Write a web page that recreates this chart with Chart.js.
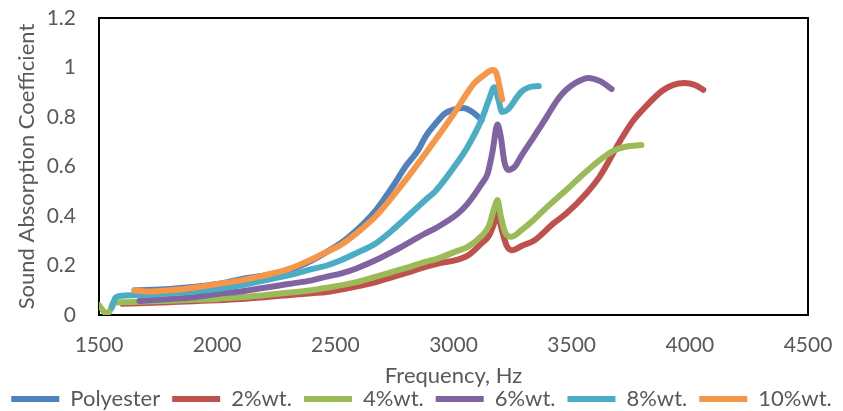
<!DOCTYPE html>
<html>
<head>
<meta charset="utf-8">
<script src="https://cdn.jsdelivr.net/npm/chart.js@4"></script>
<style>
  html, body { margin: 0; padding: 0; background: #fff; }
  #wrap { width: 843px; height: 411px; }
</style>
</head>
<body>
<div id="wrap"><canvas id="absorptionChart" width="843" height="411"></canvas></div>
<script>
const seriesNames = ['Polyester', '2%wt.', '4%wt.', '6%wt.', '8%wt.', '10%wt.'];
const seriesColors = ['#4F81BD', '#C0504D', '#9BBB59', '#8064A2', '#4BACC6', '#F79646'];

const polyesterFreq = [1650, 1800, 2000, 2100, 2200, 2300, 2400, 2464, 2550, 2672, 2750, 2797, 2850, 2881, 2930, 2964, 3000, 3040, 3080, 3119];
const polyesterVal  = [0.10, 0.105, 0.125, 0.145, 0.16, 0.18, 0.22, 0.255, 0.31, 0.424, 0.53, 0.60, 0.665, 0.72, 0.78, 0.815, 0.83, 0.836, 0.82, 0.788];

const wt2Freq = [1600, 1700, 1800, 1900, 2000, 2100, 2200, 2300, 2400, 2464, 2589, 2672, 2800, 2881, 2923, 3060, 3119, 3150, 3175, 3186, 3200, 3225, 3248, 3290, 3340, 3423, 3477, 3561, 3619, 3703, 3760, 3811, 3882, 3930, 3978, 4020, 4057];
const wt2Val  = [0.045, 0.048, 0.052, 0.056, 0.06, 0.065, 0.072, 0.08, 0.088, 0.093, 0.115, 0.133, 0.17, 0.194, 0.205, 0.24, 0.29, 0.32, 0.38, 0.42, 0.36, 0.28, 0.262, 0.28, 0.30, 0.37, 0.41, 0.49, 0.56, 0.70, 0.785, 0.84, 0.905, 0.93, 0.937, 0.93, 0.91];

const wt4Freq = [1500, 1515, 1533, 1548, 1560, 1600, 1700, 1800, 1900, 2000, 2100, 2200, 2300, 2400, 2464, 2589, 2672, 2800, 2881, 2923, 3019, 3060, 3119, 3150, 3175, 3186, 3200, 3220, 3244, 3290, 3340, 3400, 3477, 3550, 3619, 3680, 3728, 3795];
const wt4Val  = [0.04, 0.02, 0.005, 0.02, 0.05, 0.052, 0.055, 0.058, 0.062, 0.065, 0.072, 0.08, 0.09, 0.10, 0.11, 0.133, 0.155, 0.19, 0.215, 0.225, 0.26, 0.275, 0.32, 0.36, 0.44, 0.465, 0.40, 0.33, 0.316, 0.345, 0.385, 0.44, 0.505, 0.57, 0.626, 0.665, 0.68, 0.687];

const wt6Freq = [1671, 1800, 1900, 2000, 2100, 2200, 2300, 2400, 2464, 2526, 2589, 2672, 2750, 2881, 2923, 3019, 3060, 3119, 3144, 3165, 3186, 3200, 3215, 3231, 3260, 3285, 3340, 3394, 3440, 3477, 3520, 3570, 3620, 3669];
const wt6Val  = [0.057, 0.065, 0.072, 0.085, 0.095, 0.11, 0.125, 0.14, 0.155, 0.168, 0.188, 0.222, 0.26, 0.33, 0.35, 0.41, 0.45, 0.53, 0.57, 0.66, 0.77, 0.72, 0.62, 0.586, 0.60, 0.64, 0.72, 0.80, 0.87, 0.91, 0.94, 0.958, 0.945, 0.913];

const wt8Freq = [1555, 1570, 1600, 1700, 1800, 1900, 2000, 2100, 2200, 2300, 2400, 2464, 2526, 2589, 2672, 2750, 2881, 2923, 3019, 3060, 3119, 3150, 3173, 3190, 3206, 3230, 3285, 3320, 3361];
const wt8Val  = [0.03, 0.07, 0.078, 0.082, 0.088, 0.095, 0.105, 0.12, 0.14, 0.16, 0.185, 0.20, 0.222, 0.25, 0.29, 0.35, 0.465, 0.50, 0.62, 0.68, 0.79, 0.87, 0.92, 0.87, 0.82, 0.83, 0.90, 0.92, 0.925];

const wt10Freq = [1650, 1700, 1800, 1900, 2000, 2100, 2200, 2300, 2400, 2464, 2526, 2589, 2672, 2797, 2923, 3006, 3060, 3089, 3130, 3165, 3180, 3206];
const wt10Val  = [0.10, 0.095, 0.10, 0.11, 0.125, 0.14, 0.16, 0.185, 0.225, 0.255, 0.285, 0.33, 0.40, 0.545, 0.707, 0.82, 0.90, 0.937, 0.97, 0.99, 0.98, 0.87];

const xTicks = [1500, 2000, 2500, 3000, 3500, 4000, 4500];
const yTicks = [0, 0.2, 0.4, 0.6, 0.8, 1, 1.2];

const freqs = [polyesterFreq, wt2Freq, wt4Freq, wt6Freq, wt8Freq, wt10Freq];
const vals = [polyesterVal, wt2Val, wt4Val, wt6Val, wt8Val, wt10Val];

const textGray = '#595959';
const fontFamily = 'Lato, "Open Sans", sans-serif';

const frameBox = {
  id: 'frameBox',
  beforeDatasetsDraw(chart) {
    const { ctx, chartArea: a } = chart;
    ctx.save();
    ctx.strokeStyle = '#000';
    ctx.lineWidth = 2;
    ctx.strokeRect(a.left, a.top, a.right - a.left, a.bottom - a.top);
    ctx.restore();
  }
};

const datasets = seriesNames.map((name, i) => ({
  label: name,
  data: freqs[i].map((f, j) => ({ x: f, y: vals[i][j] })),
  borderColor: seriesColors[i],
  backgroundColor: seriesColors[i],
  borderWidth: 6,
  borderCapStyle: 'round',
  borderJoinStyle: 'round',
  pointRadius: 0,
  cubicInterpolationMode: 'monotone',
  order: seriesNames.length - i
}));

document.addEventListener('DOMContentLoaded', () => {
  const ctx = document.getElementById('absorptionChart').getContext('2d');
  new Chart(ctx, {
    type: 'line',
    data: { datasets: datasets },
    plugins: [frameBox],
    options: {
      responsive: false,
      animation: false,
      // negative side padding gives the one-row legend some room
      layout: { padding: { top: 18, right: -10, left: -10, bottom: -9 } },
      plugins: {
        tooltip: { enabled: false },
        legend: {
          position: 'bottom',
          labels: {
            usePointStyle: true,
            pointStyle: 'line',
            pointStyleWidth: 48,
            boxHeight: 6,
            padding: 12,
            color: textGray,
            font: { family: fontFamily, size: 22 },
            sort: (a, b) => a.datasetIndex - b.datasetIndex
          }
        }
      },
      scales: {
        x: {
          type: 'linear',
          min: 1500,
          max: 4500,
          afterBuildTicks: (scale) => { scale.ticks = xTicks.map(v => ({ value: v })); },
          afterFit: (scale) => {
            scale.height = 61;
            scale.paddingLeft = 0;
            scale.paddingRight = 35;
          },
          grid: { display: false, drawTicks: false },
          border: { display: false },
          ticks: {
            color: textGray,
            padding: 18,
            font: { family: fontFamily, size: 21 },
            callback: (v) => String(v)
          },
          title: {
            display: true,
            text: 'Frequency, Hz',
            color: textGray,
            padding: { top: 0, bottom: -13.2 },
            font: { family: fontFamily, size: 22 }
          }
        },
        y: {
          min: 0,
          max: 1.2,
          afterBuildTicks: (scale) => { scale.ticks = yTicks.map(v => ({ value: v })); },
          afterFit: (scale) => {
            scale.width = 109;
            scale.paddingTop = 0;
            scale.paddingBottom = 0;
          },
          grid: { display: false, drawTicks: false },
          border: { display: false },
          ticks: {
            color: textGray,
            padding: 23,
            font: { family: fontFamily, size: 21 },
            callback: (v) => String(Number(v.toFixed(1)))
          },
          title: {
            display: true,
            text: 'Sound Absorption Coefficient',
            color: textGray,
            padding: { top: 23.8, bottom: 0 },
            font: { family: fontFamily, size: 22 }
          }
        }
      }
    }
  });
});
</script>
</body>
</html>
